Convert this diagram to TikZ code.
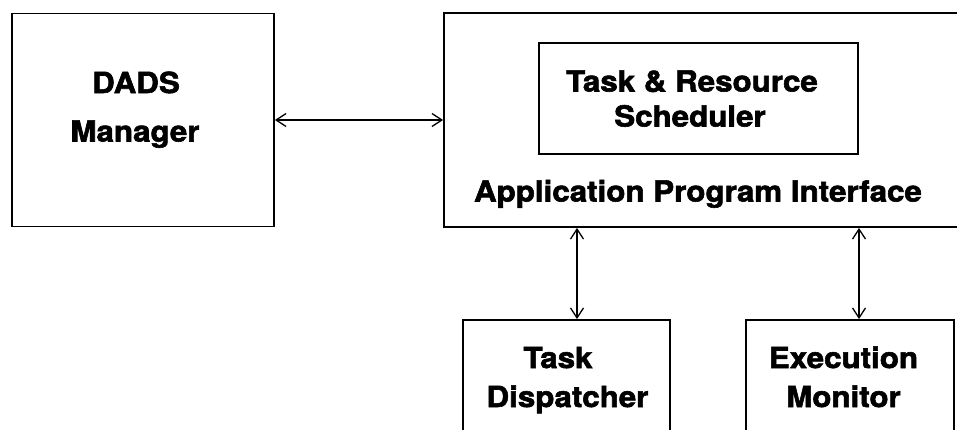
\documentclass[tikz,border=0pt]{standalone}
\usepackage{fontspec}
\newfontfamily\lblfont[FakeStretch=1.08,BoldFeatures={FakeBold=2}]{TeX Gyre Heros}
\usetikzlibrary{arrows.meta}
\begin{document}
\begin{tikzpicture}[x=1pt,y=-1pt,
 box/.style={draw,line width=1.8pt,inner sep=0pt},
 lbl/.style={anchor=base,font=\lblfont\bfseries\fontsize{29}{35}\selectfont,inner sep=0pt},
 link/.style={line width=1.3pt,{Straight Barb[length=10pt,width=13pt]}-{Straight Barb[length=10pt,width=13pt]}}]
\useasboundingbox (0,0) rectangle (957,429);
\clip (0,0) rectangle (957,429);
\node[box,minimum width=262pt,minimum height=213pt] (dads) at (143,120) {};
\node[box,minimum width=520pt,minimum height=214pt] (api) at (704,120) {};
\node[box,minimum width=319pt,minimum height=111pt] (sched) at (698.5,98.5) {};
\node[box,minimum width=207pt,minimum height=140pt] (td) at (566.5,390) {};
\node[box,minimum width=208pt,minimum height=140pt] (em) at (850,390) {};
\node[lbl] (dadsA) at (136,93) {DADS};
\node[lbl] (dadsB) at (135,141.5) {Manager};
\node[lbl] (schA) at (692,91.5) {Task \& Resource};
\node[lbl] (schB) at (690,126.5) {Scheduler};
\node[lbl] (apiT) at (698,201.5) {Application Program Interface};
\node[lbl] (tdA) at (558,368) {Task};
\node[lbl] (tdB) at (567.5,407) {Dispatcher};
\node[lbl] (emA) at (843.5,368) {Execution};
\node[lbl] (emB) at (843.5,407) {Monitor};
\draw[link] (dads.east) -- (dads.east -| api.west);
\draw[link] ([xshift=10.5pt]td.north) -- ([xshift=10.5pt]td.north |- api.south);
\draw[link] ([xshift=9pt]em.north) -- ([xshift=9pt]em.north |- api.south);
\end{tikzpicture}
\end{document}
